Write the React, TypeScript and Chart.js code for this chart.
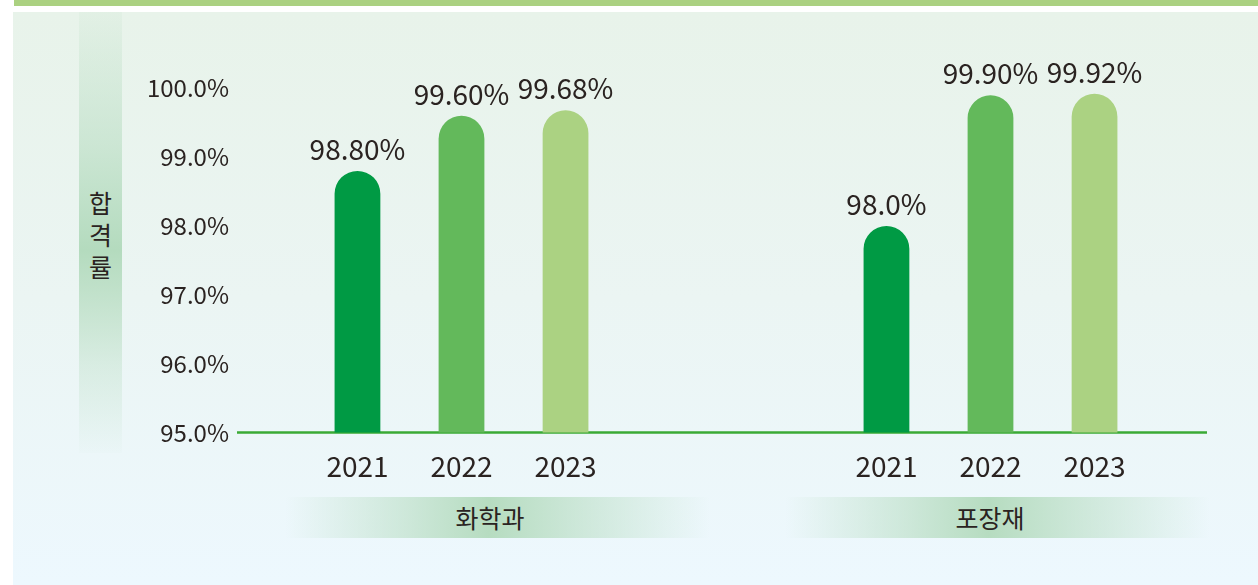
import React, { useEffect, useRef } from 'react';
import { Chart, registerables } from 'chart.js';

Chart.register(...registerables);

// ---- data ----
const groups = ['화학과', '포장재'];
const years = ['2021', '2022', '2023'];
const values2021 = [98.8, 98.0];
const values2022 = [99.6, 99.9];
const values2023 = [99.68, 99.92];
const labels2021 = ['98.80%', '98.0%'];
const labels2022 = ['99.60%', '99.90%'];
const labels2023 = ['99.68%', '99.92%'];
const yMin = 95;
const yMax = 100;
const yStep = 1;
const yTitle = '합격률';

const seriesValues = [values2021, values2022, values2023];
const seriesLabels = [labels2021, labels2022, labels2023];
const colors = ['#009a44', '#63b95b', '#abd282'];
const FONT = "'Noto Sans CJK KR', 'Noto Sans', sans-serif";
const TEXT = '#2a2321';
const TICK_FONT_SIZE = 24;
const fmtTick = (v: number) => v.toFixed(1) + '%';

const decorPlugin = {
  id: 'decor',
  beforeDatasetsDraw(chart: any) {
    const { ctx, scales, chartArea } = chart;
    const py = scales.y.getPixelForValue(yMin);
    ctx.save();
    ctx.strokeStyle = '#3aaa35';
    ctx.lineWidth = 2.5;
    ctx.beginPath();
    ctx.moveTo(chartArea.left + 40, py);
    ctx.lineTo(chartArea.right - 48, py);
    ctx.stroke();
    ctx.restore();
  },
  afterDatasetsDraw(chart: any) {
    const { ctx, chartArea } = chart;
    ctx.save();
    ctx.fillStyle = TEXT;
    ctx.textAlign = 'center';
    ctx.textBaseline = 'alphabetic';
    chart.data.datasets.forEach((ds: any, i: number) => {
      const meta = chart.getDatasetMeta(i);
      meta.data.forEach((bar: any, j: number) => {
        ctx.font = `28px ${FONT}`;
        ctx.fillText(seriesLabels[i][j], bar.x, bar.y - 11);
        ctx.fillText(ds.label, bar.x, chartArea.bottom + 44);
      });
    });
    ctx.restore();
  },
};

export default function App() {
  const ref = useRef<HTMLCanvasElement | null>(null);

  useEffect(() => {
    if (!ref.current) return;
    // measure widest tick label so right-aligned mirrored labels end at the wanted x
    const mctx = ref.current.getContext('2d')!;
    mctx.font = `${TICK_FONT_SIZE}px ${FONT}`;
    let widest = 0;
    for (let v = yMin; v <= yMax; v += yStep) {
      widest = Math.max(widest, mctx.measureText(fmtTick(v)).width);
    }
    const axisWidth = 197;
    const labelRight = 229;
    const chart = new Chart(ref.current, {
      type: 'bar',
      data: {
        labels: groups,
        datasets: years.map((yr, i) => ({
          label: yr,
          data: seriesValues[i],
          backgroundColor: colors[i],
          borderRadius: 23,
          borderSkipped: 'start',
          categoryPercentage: 0.59,
          barPercentage: 0.44,
        })),
      },
      options: {
        responsive: false,
        animation: false,
        devicePixelRatio: 1,
        layout: { padding: { left: 0, right: 3, top: 88.3, bottom: 152.5 } },
        plugins: {
          legend: { display: false },
          tooltip: { enabled: false },
        },
        scales: {
          x: { display: false },
          y: {
            min: yMin,
            max: yMax,
            ticks: {
              stepSize: yStep,
              mirror: true,
              crossAlign: 'far',
              padding: labelRight - axisWidth - widest,
              color: TEXT,
              font: { size: TICK_FONT_SIZE, family: FONT },
              callback: (v: any) => fmtTick(Number(v)),
            },
            grid: { display: false, drawTicks: false },
            border: { display: false },
            afterFit: (s: any) => {
              s.width = axisWidth;
            },
          },
        },
      },
      plugins: [decorPlugin],
    } as any);
    return () => chart.destroy();
  }, []);

  return (
    <div
      style={{
        position: 'absolute',
        left: 0,
        top: 0,
        width: 1258,
        height: 585,
        background: '#ffffff',
        overflow: 'hidden',
        fontFamily: FONT,
      }}
    >
      <div style={{ position: 'absolute', left: 14, top: 0, width: 1244, height: 6, background: '#abd181' }} />
      <div
        style={{
          position: 'absolute',
          left: 13,
          top: 12,
          width: 1245,
          height: 573,
          background: 'linear-gradient(to bottom, #e8f3ea 0%, #ebf5f3 50%, #edf8fe 100%)',
        }}
      />
      <div
        style={{
          position: 'absolute',
          left: 79,
          top: 12,
          width: 43,
          height: 441,
          background:
            'linear-gradient(to bottom, rgba(180,219,190,0.12) 0%, rgba(180,219,190,0.55) 30%, rgba(180,219,190,1) 54%, rgba(180,219,190,0.35) 80%, rgba(180,219,190,0.03) 100%)',
        }}
      />
      <div
        style={{
          position: 'absolute',
          left: 79,
          top: 185.5,
          width: 43,
          textAlign: 'center',
          fontSize: 25,
          lineHeight: '32px',
          color: TEXT,
        }}
      >
        {yTitle.split('').map((c, i) => (
          <div key={i}>{c}</div>
        ))}
      </div>
      {groups.map((g, i) => (
        <div
          key={g}
          style={{
            position: 'absolute',
            left: 285 + i * 500,
            top: 497,
            width: 425,
            height: 41,
            lineHeight: '41px',
            boxSizing: 'border-box',
            paddingRight: 15,
            textAlign: 'center',
            fontSize: 25,
            color: TEXT,
            background:
              'linear-gradient(to right, rgba(182,220,192,0) 0%, rgba(182,220,192,0.6) 30%, rgba(182,220,192,1) 48%, rgba(182,220,192,0.6) 68%, rgba(182,220,192,0) 100%)',
          }}
        >
          {g}
        </div>
      ))}
      <canvas
        ref={ref}
        width={1258}
        height={585}
        style={{ position: 'absolute', left: 0, top: 0, width: 1258, height: 585 }}
      />
    </div>
  );
}
